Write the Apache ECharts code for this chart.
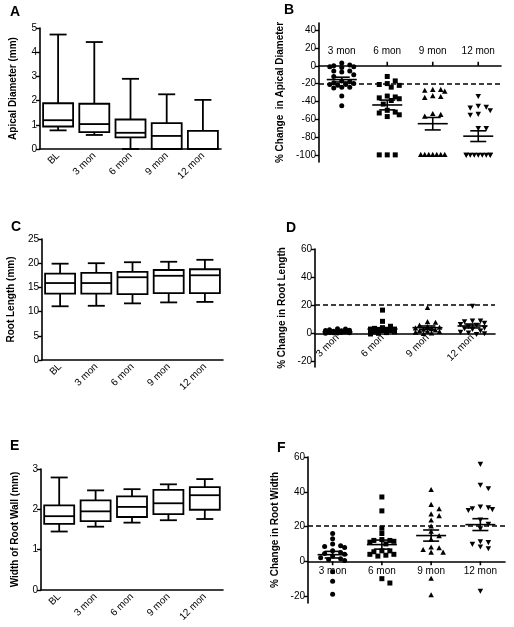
<!DOCTYPE html>
<html><head><meta charset="utf-8">
<script src="https://cdn.jsdelivr.net/npm/echarts@6/dist/echarts.min.js"></script>
<style>html,body{margin:0;padding:0;background:#fff}#c{width:514px;height:627px}</style>
</head><body><div id="c"></div>
<script>
// ---------- categories ----------
const boxCats = ['BL', '3 mon', '6 mon', '9 mon', '12 mon'];
const changeCats = ['3 mon', '6 mon', '9 mon', '12 mon'];

// ---------- Panel A: Apical Diameter (mm) box plots ----------
const apicalMin = [0.77, 0.58, 0, 0, 0];
const apicalQ1 = [0.93, 0.70, 0.48, 0, 0];
const apicalMed = [1.19, 1.03, 0.67, 0.54, 0];
const apicalQ3 = [1.89, 1.87, 1.22, 1.07, 0.75];
const apicalMax = [4.73, 4.42, 2.90, 2.26, 2.03];

// ---------- Panel C: Root Length (mm) box plots ----------
const lengthMin = [11.1, 11.2, 11.7, 11.9, 12.0];
const lengthQ1 = [13.7, 13.7, 13.6, 13.8, 13.8];
const lengthMed = [15.9, 15.9, 17.1, 17.4, 17.5];
const lengthQ3 = [17.85, 18.0, 18.2, 18.6, 18.75];
const lengthMax = [19.9, 20.0, 20.2, 20.3, 20.7];

// ---------- Panel E: Width of Root Wall (mm) box plots ----------
const wallMin = [1.45, 1.57, 1.67, 1.73, 1.76];
const wallQ1 = [1.64, 1.71, 1.81, 1.88, 1.99];
const wallMed = [1.83, 1.95, 2.06, 2.15, 2.35];
const wallQ3 = [2.10, 2.22, 2.32, 2.48, 2.55];
const wallMax = [2.79, 2.47, 2.50, 2.62, 2.75];

// ---------- Panel B: % Change in Apical Diameter ----------
const apicalChange3 = [3, 1, 0, -1, -1, -2, -6, -6, -7, -10, -12, -17, -18, -19, -20, -21, -21, -22, -24, -24, -25, -34, -45];
const apicalChange6 = [-12, -17, -20, -21, -22, -24, -34, -35, -36, -37, -39, -43, -50, -52, -53, -55, -57, -100, -100, -100];
const apicalChange9 = [-27, -28, -27, -29, -34, -35, -36, -54, -55, -57, -100, -100, -100, -100, -100, -100, -100];
const apicalChange12 = [-34, -45, -46, -47, -50, -54, -55, -70, -70, -100, -100, -100, -100, -100, -100, -100, -100, -100];
const apicalChangeMean = [-15.5, -44, -65, -79];
const apicalChangeSem = [2.7, 5.5, 7, 6];
const apicalThreshold = -20;

// ---------- Panel D: % Change in Root Length ----------
const lengthChange3 = [0.2, 0.5, 1, 1.5, 2, 0.8, 0.3, 1.2, 2.5, 3, 0, 0.6, 1.8, 2.2, 0.4, 1, 3.2];
const lengthChange6 = [16.5, 8.5, 5, 4, 3.5, 3, 3, 2.5, 2, 2, 1.5, 1, 1, 0.5, 0, -0.5, 2.8];
const lengthChange9 = [18, 8, 7.5, 5.5, 4.5, 4, 3, 2.5, 2, 1.5, 1, 0.5, 0, -0.5, 1.2, 3.5];
const lengthChange12 = [19.5, 9, 9, 8.5, 7.5, 6.5, 5, 4, 3, 2, 1, 0.5, 0, -0.5, 6, 3.5];
const lengthChangeMean = [1, 3, 4, 5.2];
const lengthChangeSem = [0.3, 1, 1.2, 1.4];
const lengthThreshold = 20.2;

// ---------- Panel F: % Change in Root Width ----------
const widthChange3 = [16, 13, 10, 9, 8.5, 8, 6, 5, 4.5, 4, 3, 2, 1.5, 1, 0.5, -6, -11.5, -19];
const widthChange6 = [37, 29, 19, 16, 12.5, 12, 12, 11.5, 11, 10, 6, 6, 5.5, 4, 4, 3.5, 3, -10, -12.5];
const widthChange9 = [41, 32.5, 30, 27, 26, 23.5, 20, 17, 14.5, 12.5, 8, 7.5, 6.5, 5, 5, -10, -19.5];
const widthChange12 = [56, 44, 42, 31.5, 31, 30.5, 30, 29.5, 24, 21.5, 19, 11.5, 11, 10, 8.5, 7.5, -17];
const widthChangeMean = [3.8, 9.6, 14.8, 21.1];
const widthChangeSem = [1.9, 2.6, 3.2, 3.4];
const widthThreshold = 20.5;

// ---------- tick labels ----------
const apicalTicks = [0, 1, 2, 3, 4, 5];
const lengthTicks = [0, 5, 10, 15, 20, 25];
const wallTicks = [0, 1, 2, 3];
const apicalChangeTicks = [-100, -80, -60, -40, -20, 0, 20, 40];
const lengthChangeTicks = [-20, 0, 20, 40, 60];
const widthChangeTicks = [-20, 0, 20, 40, 60];

// ================= rendering =================
const FONT = '"Liberation Sans", Arial, sans-serif';
const chart = echarts.init(document.getElementById('c'));

const markShapes = ['circle', 'rect', 'up', 'down'];

function symbolEl(shape, x, y, s) {
  const st = { fill: '#000' };
  if (shape === 'circle') return { type: 'circle', shape: { cx: x, cy: y, r: s / 2 }, style: st };
  if (shape === 'rect') return { type: 'rect', shape: { x: x - s / 2, y: y - s / 2, width: s, height: s }, style: st };
  if (shape === 'up') return { type: 'polygon', shape: { points: [[x, y - s * 0.6], [x - s * 0.55, y + s * 0.42], [x + s * 0.55, y + s * 0.42]] }, style: st };
  return { type: 'polygon', shape: { points: [[x, y + s * 0.6], [x - s * 0.55, y - s * 0.42], [x + s * 0.55, y - s * 0.42]] }, style: st };
}

function boxSeries(gi, mins, q1s, meds, q3s, maxs) {
  const data = mins.map((m, i) => [i, m, q1s[i], meds[i], q3s[i], maxs[i]]);
  return {
    type: 'custom', xAxisIndex: gi, yAxisIndex: gi, data,
    encode: { x: 0, y: [1, 2, 3, 4, 5] },
    renderItem(params, api) {
      const i = api.value(0);
      const x = api.coord([i, 0])[0];
      const p = [1, 2, 3, 4, 5].map(d => api.coord([i, api.value(d)])[1]);
      const hw = 15, cw = 8.5;
      const ls = { stroke: '#000', lineWidth: 1.8 };
      const line = (x1, y1, x2, y2) => ({ type: 'line', shape: { x1, y1, x2, y2 }, style: ls });
      return {
        type: 'group', children: [
          line(x, p[3], x, p[4]), line(x - cw, p[4], x + cw, p[4]),
          line(x, p[1], x, p[0]), line(x - cw, p[0], x + cw, p[0]),
          { type: 'rect', shape: { x: x - hw, y: p[3], width: hw * 2, height: p[1] - p[3] }, style: { fill: '#fff', stroke: '#000', lineWidth: 1.8 } },
          line(x - hw, p[2], x + hw, p[2])
        ]
      };
    }
  };
}

// column scatter arranged like a bee swarm, kept inside +-maxHalf px of the category centre
function swarmSeries(gi, groups, size) {
  const data = groups.map((g, i) => [i, Math.max(...g), Math.min(...g)]);
  const step = 4, maxHalf = 14, near = 4.2;
  return {
    type: 'custom', xAxisIndex: gi, yAxisIndex: gi, data, z: 3,
    encode: { x: 0, y: [1, 2] },
    renderItem(params, api) {
      const ci = api.value(0);
      const cx = api.coord([ci, 0])[0];
      const vals = groups[ci].slice().sort((a, b) => b - a);
      const placed = [];
      const children = [];
      const offs = [0];
      for (let k = 1; k * step <= maxHalf; k++) { offs.push(k * step, -k * step); }
      vals.forEach(v => {
        const y = api.coord([ci, v])[1];
        let best = 0, bestScore = Infinity;
        for (const off of offs) {
          let score = 0;
          placed.forEach(pp => {
            const dx = Math.abs(pp.x - off), dy = Math.abs(pp.y - y);
            if (dx < size && dy < size) score += (size - dx) * (size - dy);
          });
          if (score < bestScore - 1e-6) { bestScore = score; best = off; }
          if (score === 0) break;
        }
        placed.push({ x: best, y });
        children.push(symbolEl(markShapes[ci], cx + best, y, size));
      });
      return { type: 'group', children };
    }
  };
}

// mean +- SEM, plus the small category tick on the zero line (dir: -1 up, 1 down, 0 none)
function meanSeries(gi, means, sems, tickDir) {
  const data = means.map((m, i) => [i, m, m + sems[i], m - sems[i]]);
  return {
    type: 'custom', xAxisIndex: gi, yAxisIndex: gi, data, z: 4,
    encode: { x: 0, y: [1, 2, 3] },
    renderItem(params, api) {
      const i = api.value(0);
      const cx = api.coord([i, 0])[0];
      const y0 = api.coord([i, 0])[1];
      const ym = api.coord([i, api.value(1)])[1];
      const yt = api.coord([i, api.value(2)])[1];
      const yb = api.coord([i, api.value(3)])[1];
      const ls = { stroke: '#000', lineWidth: 1.6 };
      const line = (x1, y1, x2, y2) => ({ type: 'line', shape: { x1, y1, x2, y2 }, style: ls });
      const ch = [
        line(cx - 15, ym, cx + 15, ym), line(cx, yt, cx, yb),
        line(cx - 8, yt, cx + 8, yt), line(cx - 8, yb, cx + 8, yb)
      ];
      if (tickDir) ch.push(line(cx, y0, cx, y0 + tickDir * 4));
      return { type: 'group', children: ch };
    }
  };
}

function thresholdSeries(gi, v) {
  return {
    type: 'line', xAxisIndex: gi, yAxisIndex: gi, data: [], silent: true,
    markLine: {
      silent: true, symbol: ['none', 'none'], label: { show: false },
      lineStyle: { type: [5, 3], color: '#000', width: 1.5 },
      data: [{ yAxis: v }]
    }
  };
}

const axisLineStyle = { show: true, lineStyle: { color: '#000', width: 1.6 } };
const tickStyle = { lineStyle: { color: '#000', width: 1.4 }, length: 4 };
const lblStyle = { color: '#000', fontSize: 10, fontFamily: FONT };
const nameStyle = { color: '#000', fontSize: 10, fontWeight: 'bold', fontFamily: FONT };

function boxX(gi) {
  return {
    type: 'category', gridIndex: gi, data: boxCats,
    axisLine: axisLineStyle,
    axisTick: Object.assign({ alignWithLabel: true }, tickStyle),
    axisLabel: Object.assign({ rotate: 45, margin: 5, interval: 0 }, lblStyle),
    splitLine: { show: false }
  };
}
function changeX(gi, labelOpts) {
  return {
    type: 'category', gridIndex: gi, data: changeCats,
    axisLine: axisLineStyle,
    axisTick: { show: false },
    axisLabel: Object.assign({ interval: 0 }, lblStyle, labelOpts),
    splitLine: { show: false }
  };
}
function valY(gi, min, max, ticks, name, gap) {
  return {
    type: 'value', gridIndex: gi, min, max,
    name, nameLocation: 'middle', nameGap: gap, nameTextStyle: nameStyle,
    axisLine: axisLineStyle,
    axisTick: Object.assign({ show: true, customValues: ticks }, tickStyle),
    axisLabel: Object.assign({ customValues: ticks, margin: 3 }, lblStyle),
    splitLine: { show: false }
  };
}

const option = {
  animation: false,
  backgroundColor: '#fff',
  grid: [
    { left: 40, top: 28, width: 181, height: 121 },
    { left: 319, top: 23, width: 182, height: 139 },
    { left: 42, top: 239, width: 181, height: 121 },
    { left: 315, top: 249, width: 180, height: 118 },
    { left: 41, top: 469, width: 182, height: 121 },
    { left: 308, top: 457, width: 197, height: 146 }
  ],
  xAxis: [
    boxX(0),
    changeX(1, { inside: true, margin: 106 }),
    boxX(2),
    changeX(3, { rotate: 45, margin: -31 }),
    boxX(4),
    changeX(5, { margin: -37 })
  ],
  yAxis: [
    valY(0, 0, 5, apicalTicks, 'Apical Diameter (mm)', 22),
    valY(1, -108, 48, apicalChangeTicks, '% Change  in Apical Diameter', 34),
    valY(2, 0, 25, lengthTicks, 'Root Length (mm)', 26),
    valY(3, -24, 60, lengthChangeTicks, '% Change in Root Length', 28),
    valY(4, 0, 3, wallTicks, 'Width of Root Wall (mm)', 21),
    valY(5, -24, 60, widthChangeTicks, '% Change in Root Width', 28)
  ],
  series: [
    boxSeries(0, apicalMin, apicalQ1, apicalMed, apicalQ3, apicalMax),
    thresholdSeries(1, apicalThreshold),
    swarmSeries(1, [apicalChange3, apicalChange6, apicalChange9, apicalChange12], 5),
    meanSeries(1, apicalChangeMean, apicalChangeSem, -1),
    boxSeries(2, lengthMin, lengthQ1, lengthMed, lengthQ3, lengthMax),
    thresholdSeries(3, lengthThreshold),
    swarmSeries(3, [lengthChange3, lengthChange6, lengthChange9, lengthChange12], 5),
    meanSeries(3, lengthChangeMean, lengthChangeSem, 0),
    boxSeries(4, wallMin, wallQ1, wallMed, wallQ3, wallMax),
    thresholdSeries(5, widthThreshold),
    swarmSeries(5, [widthChange3, widthChange6, widthChange9, widthChange12], 5),
    meanSeries(5, widthChangeMean, widthChangeSem, 1)
  ],
  graphic: [
    ['A', 10, 5], ['B', 284, 3], ['C', 11, 220], ['D', 286, 221], ['E', 10, 439], ['F', 277, 441]
  ].map(([t, x, y]) => ({
    type: 'text', left: x, top: y,
    style: { text: t, font: 'bold 14px ' + FONT, fill: '#000' }
  }))
};
chart.setOption(option);
</script>
</body></html>
